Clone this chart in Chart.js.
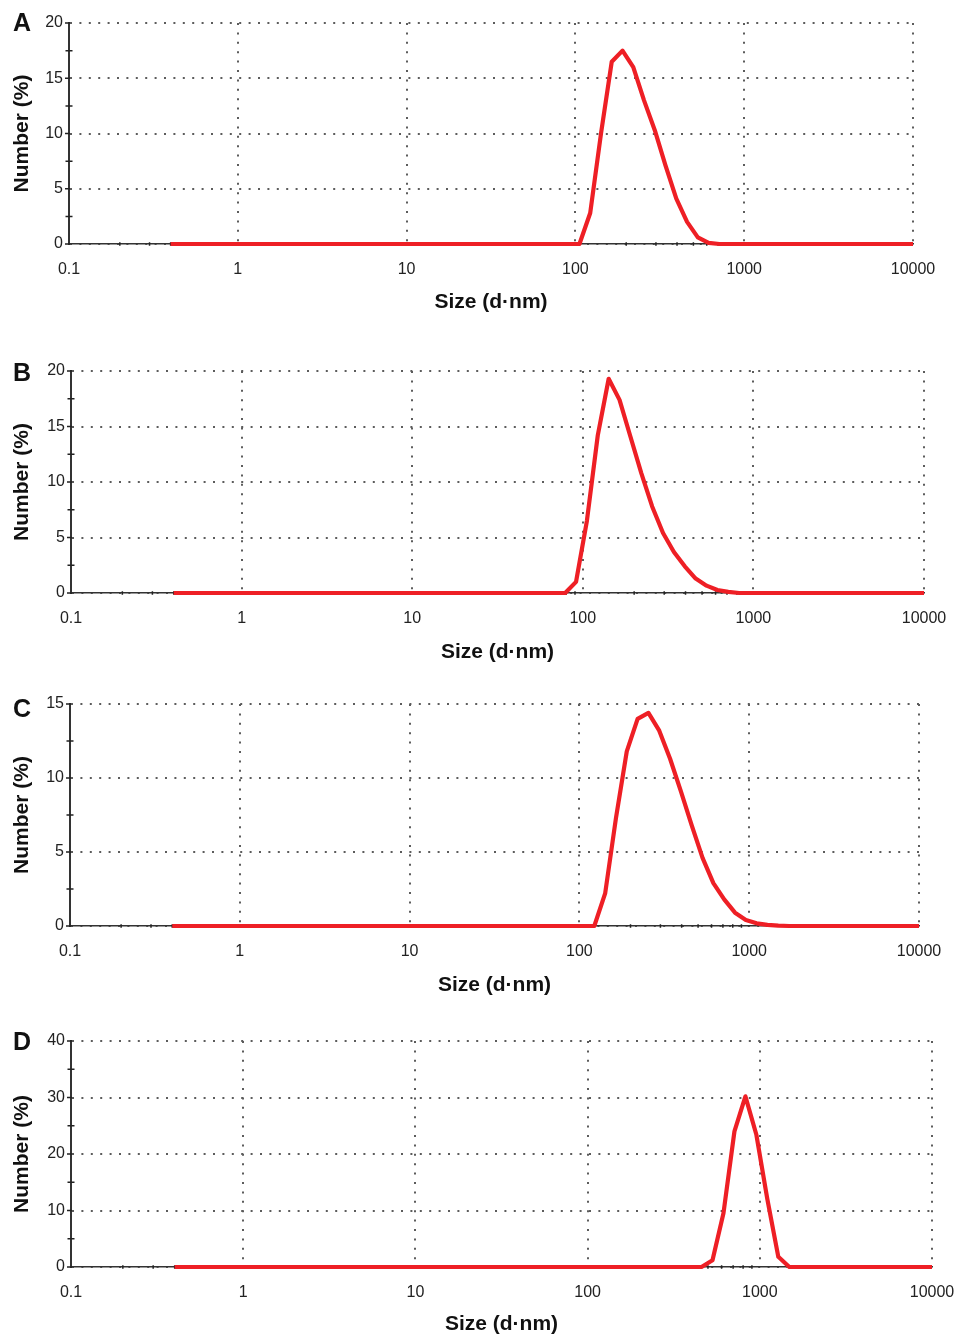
<!DOCTYPE html>
<html lang="en">
<head>
<meta charset="UTF-8">
<title>Size distribution by number</title>
<script src="https://cdn.jsdelivr.net/npm/chart.js"></script>
<style>
    html, body {
        margin: 0;
        padding: 0;
        background: #fff;
        overflow: hidden;
    }
    #page {
        position: relative;
        width: 957px;
        height: 1336px;
    }
    .panel {
        position: absolute;
        left: 0;
    }
    .letter {
        position: absolute;
        left: 13px;
        font: bold 25px 'Liberation Sans', Arial, sans-serif;
        line-height: 1;
        color: #111;
    }
</style>
</head>
<body>
<div id="page"></div>

<script>
    // x axis (log, d.nm)
    const xDecades = [0.1, 1, 10, 100, 1000, 10000];
    const xTickLabels = ['0.1', '1', '10', '100', '1000', '10000'];
    const minorSteps = [2, 3, 4, 5, 6, 7, 8, 9];

    // A
    const sizesA  = [0.4, 105.7, 122.4, 141.8, 164.2, 190.1, 220.2, 255, 295.3, 342, 396.1, 458.7, 531.2, 615.1, 712.4, 10000];
    const numberA = [0,   0,     2.8,   10.0,  16.5,  17.5,  16.0,  13.0, 10.3, 7.1, 4.1,  2.0,   0.6,   0.1,   0,     0];

    // B
    const sizesB  = [0.4, 78.82, 91.28, 105.7, 122.4, 141.8, 164.2, 190.1, 220.2, 255, 295.3, 342, 396.1, 458.7, 531.2, 615.1, 712.4, 825, 10000];
    const numberB = [0,   0,     1.0,   6.5,   14.2,  19.3,  17.4,  14.1,  10.8,  7.8, 5.4,   3.7, 2.4,   1.3,   0.66,  0.27,  0.1,   0,   0];

    // C
    const sizesC  = [0.4, 122.4, 141.8, 164.2, 190.1, 220.2, 255, 295.3, 342, 396.1, 458.7, 531.2, 615.1, 712.4, 825, 955.4, 1106, 1281, 1484, 1718, 10000];
    const numberC = [0,   0,     2.2,   7.3,   11.8,  14.0,  14.4, 13.2, 11.3, 9.1,  6.8,   4.6,   2.9,   1.8,   0.9, 0.4,   0.18, 0.08, 0.03, 0,    0];

    // D
    const sizesD  = [0.4, 458.7, 531.2, 615.1, 712.4, 825, 955.4, 1106, 1281, 1484, 10000];
    const numberD = [0,   0,     1.2,   9.5,   24.0,  30.2, 23.4, 12.0, 1.8,  0,    0];

    const yMaxes = [20, 20, 15, 40];
    const ySteps = [5, 5, 5, 10];
    const panelLetters = ['A', 'B', 'C', 'D'];

    const FONT = "'Liberation Sans', Arial, sans-serif";
    const RED = '#ee1f25';
    const GRID = '#5c5c5c';

    // chart-area placement of each panel on the page
    const panels = [
        { sizes: sizesA, values: numberA, top: 23,   bottom: 244,  left: 69, right: 913, titleY: 302,  letterTop: 10 },
        { sizes: sizesB, values: numberB, top: 371,  bottom: 593,  left: 71, right: 924, titleY: 652,  letterTop: 360 },
        { sizes: sizesC, values: numberC, top: 704,  bottom: 926,  left: 70, right: 919, titleY: 985,  letterTop: 696 },
        { sizes: sizesD, values: numberD, top: 1041, bottom: 1267, left: 71, right: 932, titleY: 1324, letterTop: 1029 }
    ];

    // small tick marks on the axes (minor ones cross the axis line)
    const axisMarks = {
        id: 'axisMarks',
        beforeDatasetsDraw(chart, args, opts) {
            const { ctx, chartArea, scales: { x, y } } = chart;
            const left = chartArea.left, bottom = chartArea.bottom;
            ctx.save();
            ctx.strokeStyle = '#222';
            ctx.lineWidth = 1.5;
            ctx.beginPath();
            y.ticks.forEach(t => {
                const py = y.getPixelForValue(t.value);
                ctx.moveTo(left - 4, py);
                ctx.lineTo(left + 1, py);
                if (t.value < y.max) {
                    const pm = y.getPixelForValue(t.value + opts.step / 2);
                    ctx.moveTo(left - 3.5, pm);
                    ctx.lineTo(left + 3.5, pm);
                }
            });
            xDecades.slice(0, -1).forEach(d => {
                minorSteps.forEach(m => {
                    const px = x.getPixelForValue(d * m);
                    ctx.moveTo(px, bottom - 1.8);
                    ctx.lineTo(px, bottom + 1.8);
                });
            });
            ctx.stroke();
            ctx.restore();
        }
    };

    const page = document.getElementById('page');

    panels.forEach((p, i) => {
        const canvasTop = p.top - 23;
        const canvasBottom = Math.min(p.titleY + 19, 1336);
        const h = canvasBottom - canvasTop;

        const canvas = document.createElement('canvas');
        canvas.className = 'panel';
        canvas.width = 957;
        canvas.height = h;
        canvas.style.top = canvasTop + 'px';
        page.appendChild(canvas);

        const letter = document.createElement('div');
        letter.className = 'letter';
        letter.style.top = p.letterTop + 'px';
        letter.textContent = panelLetters[i];
        page.appendChild(letter);

        new Chart(canvas, {
            type: 'line',
            data: {
                datasets: [{
                    data: p.sizes.map((s, k) => ({ x: s, y: p.values[k] })),
                    borderColor: RED,
                    borderWidth: 4.2,
                    borderJoinStyle: 'round',
                    pointRadius: 0,
                    tension: 0,
                    clip: false
                }]
            },
            options: {
                responsive: false,
                animation: false,
                layout: { padding: { top: 23, left: 0, right: 957 - p.right, bottom: 0 } },
                plugins: {
                    legend: { display: false },
                    tooltip: { enabled: false },
                    axisMarks: { step: ySteps[i] }
                },
                scales: {
                    x: {
                        type: 'logarithmic',
                        min: 0.1,
                        max: 10000,
                        afterBuildTicks: s => { s.ticks = xDecades.map(v => ({ value: v })); },
                        afterFit: s => { s.height = canvasBottom - p.bottom; },
                        ticks: {
                            autoSkip: false,
                            maxRotation: 0,
                            padding: 1,
                            color: '#222',
                            font: { family: FONT, size: 16 },
                            callback: v => {
                                const k = xDecades.indexOf(v);
                                return k >= 0 ? xTickLabels[k] : '';
                            }
                        },
                        grid: { color: GRID, lineWidth: 2, drawTicks: true, tickLength: 15, tickColor: 'rgba(0,0,0,0)' },
                        border: { color: '#333', width: 1.6, dash: [2, 7.4] },
                        title: {
                            display: true,
                            text: 'Size (d·nm)',
                            color: '#111',
                            font: { family: FONT, size: 21, weight: 'bold' },
                            padding: { top: 0, bottom: canvasBottom - p.titleY - 12.6 }
                        }
                    },
                    y: {
                        min: 0,
                        max: yMaxes[i],
                        afterFit: s => { s.width = p.left; },
                        ticks: {
                            stepSize: ySteps[i],
                            padding: 6,
                            color: '#222',
                            font: { family: FONT, size: 16 }
                        },
                        grid: { color: GRID, lineWidth: 2, drawTicks: false },
                        border: { color: '#333', width: 2, dash: [2, 7.4] },
                        title: {
                            display: true,
                            text: 'Number (%)',
                            color: '#111',
                            font: { family: FONT, size: 21, weight: 'bold' },
                            padding: { top: 10, bottom: 0 }
                        }
                    }
                }
            },
            plugins: [axisMarks]
        });
    });
</script>
</body>
</html>
